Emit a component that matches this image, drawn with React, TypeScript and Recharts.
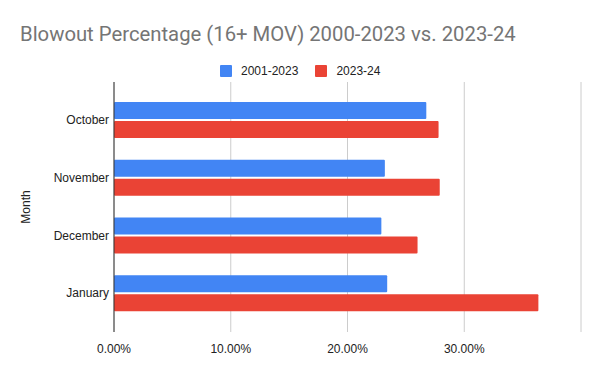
import React from 'react';
import { BarChart, Bar, XAxis, YAxis, CartesianGrid } from 'recharts';

const months = ['October', 'November', 'December', 'January'];
const historic = [0.2675, 0.232, 0.229, 0.234];
const current = [0.278, 0.279, 0.26, 0.3635];
const seriesNames = ['2001-2023', '2023-24'];
const seriesColors = ['#4285F4', '#EA4335'];
const xTicks = [0, 0.1, 0.2, 0.3, 0.4];

const data = months.map((m, i) => ({ month: m, historic: historic[i], current: current[i] }));

const fmtPct = (v: number) => (v >= 0.4 ? '' : (v * 100).toFixed(2) + '%');

const MonthLabel = (props: any) => {
  const { viewBox } = props;
  const cy = viewBox.y + viewBox.height / 2;
  return (
    <text
      x={26}
      y={cy}
      transform={`rotate(-90 26 ${cy})`}
      textAnchor="middle"
      dominantBaseline="central"
      fill="#222"
      fontSize={12}
    >
      Month
    </text>
  );
};

const App: React.FC = () => {
  return (
    <div style={{ position: 'absolute', left: 0, top: 0, width: 600, height: 371, background: '#fff', fontFamily: 'Arial, "Liberation Sans", sans-serif' }}>
      <div style={{ position: 'absolute', left: 20, top: 23, fontSize: 20.3, lineHeight: '23px', color: '#757575', fontFamily: 'Roboto, Arial, sans-serif', whiteSpace: 'nowrap' }}>
        Blowout Percentage (16+ MOV) 2000-2023 vs. 2023-24
      </div>
      <div style={{ position: 'absolute', left: 220, top: 64, display: 'flex', alignItems: 'center', fontSize: 12, color: '#222' }}>
        {seriesNames.map((n, i) => (
          <div key={n} style={{ display: 'flex', alignItems: 'center', marginRight: 17 }}>
            <span style={{ display: 'inline-block', width: 12, height: 12, background: seriesColors[i], marginRight: 9, borderRadius: 1 }} />
            <span>{n}</span>
          </div>
        ))}
      </div>
      <BarChart
        width={600}
        height={371}
        data={data}
        layout="vertical"
        margin={{ top: 82, right: 19, bottom: 9, left: 0 }}
        barSize={17}
        barGap={2}
      >
        <CartesianGrid horizontal={false} stroke="#ccc" />
        <XAxis
          type="number"
          domain={[0, 0.4]}
          ticks={xTicks}
          tickFormatter={fmtPct}
          axisLine={false}
          tickLine={false}
          tick={{ fill: '#222', fontSize: 12 }}
          tickMargin={6}
          interval={0}
          height={30}
        />
        <YAxis
          type="category"
          dataKey="month"
          width={114}
          axisLine={{ stroke: '#333' }}
          tickLine={false}
          tickSize={5}
          tick={{ fill: '#222', fontSize: 12 }}
          tickMargin={0}
          padding={{ top: 9, bottom: 10 }}
          label={<MonthLabel />}
        />
        <Bar dataKey="historic" name={seriesNames[0]} fill={seriesColors[0]} isAnimationActive={false} radius={1} />
        <Bar dataKey="current" name={seriesNames[1]} fill={seriesColors[1]} isAnimationActive={false} radius={1} />
      </BarChart>
    </div>
  );
};

export default App;
